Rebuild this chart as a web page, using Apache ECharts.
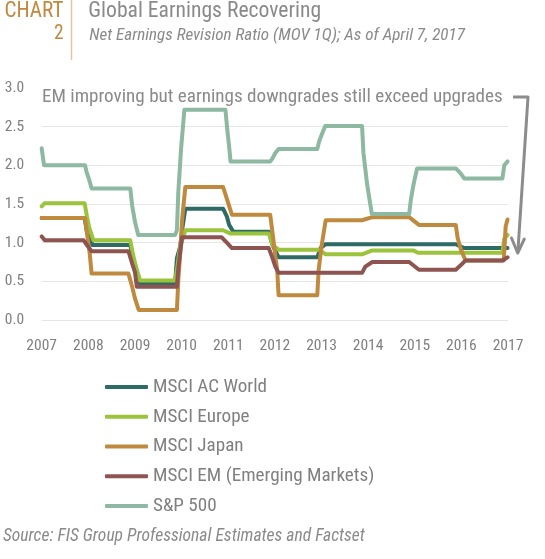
<!DOCTYPE html>
<html><head><meta charset="utf-8">
<script src="https://cdn.jsdelivr.net/npm/echarts@6/dist/echarts.min.js"></script>
<style>html,body{margin:0;padding:0;background:#fff}#c{width:545px;height:559px}</style>
</head><body><div id="c"></div>
<script>
// Tick labels
var xTicks = [2007,2008,2009,2010,2011,2012,2013,2014,2015,2016,2017];
var yTicks = [0.0,0.5,1.0,1.5,2.0,2.5,3.0];
var seriesNames = ['MSCI AC World','MSCI Europe','MSCI Japan','MSCI EM (Emerging Markets)','S&P 500'];

// Series values: [year, ratio] vertices of step lines
var acWorld = [[2007.00,1.32],[2007.92,1.32],[2007.97,1.14],[2008.04,1.14],[2008.08,0.97],[2008.90,0.97],[2008.96,0.80],[2009.04,0.62],[2009.11,0.47],[2009.86,0.47],[2009.90,0.80],[2009.97,0.95],[2010.02,1.20],[2010.08,1.44],[2010.89,1.44],[2010.97,1.34],[2011.02,1.23],[2011.11,1.14],[2011.87,1.14],[2011.95,0.97],[2012.08,0.81],[2012.91,0.81],[2012.98,0.93],[2013.09,0.98],[2015.88,0.98],[2016.06,0.93],[2016.99,0.93]];
var europe = [[2007.00,1.47],[2007.06,1.51],[2007.92,1.51],[2007.97,1.34],[2008.02,1.19],[2008.11,1.03],[2008.90,1.03],[2008.96,0.84],[2009.03,0.67],[2009.11,0.51],[2009.86,0.51],[2009.91,0.69],[2009.97,0.95],[2010.08,1.16],[2010.89,1.16],[2011.04,1.12],[2011.87,1.12],[2011.95,0.97],[2012.08,0.91],[2012.94,0.91],[2013.09,0.85],[2013.87,0.85],[2014.09,0.90],[2014.97,0.90],[2015.07,0.87],[2016.88,0.87],[2016.92,1.05],[2016.99,1.10]];
var japan = [[2007.00,1.32],[2007.93,1.32],[2007.98,1.08],[2008.03,0.86],[2008.07,0.60],[2008.86,0.60],[2008.94,0.43],[2009.00,0.28],[2009.08,0.13],[2009.90,0.13],[2009.93,0.52],[2009.97,0.86],[2010.01,1.29],[2010.08,1.72],[2010.89,1.72],[2010.99,1.53],[2011.08,1.36],[2011.90,1.36],[2011.97,1.03],[2012.01,0.82],[2012.05,0.65],[2012.08,0.32],[2012.91,0.32],[2012.94,0.65],[2013.00,0.95],[2013.09,1.29],[2013.87,1.29],[2014.09,1.33],[2014.88,1.33],[2015.09,1.23],[2015.88,1.23],[2015.92,1.06],[2015.99,0.91],[2016.09,0.77],[2016.91,0.77],[2016.95,1.21],[2016.99,1.30]];
var em = [[2007.00,1.08],[2007.07,1.03],[2007.90,1.03],[2007.97,0.97],[2008.07,0.89],[2008.86,0.89],[2008.94,0.73],[2009.00,0.62],[2009.04,0.43],[2009.90,0.43],[2009.93,0.67],[2010.01,1.07],[2010.86,1.07],[2010.97,1.00],[2011.08,0.93],[2011.87,0.93],[2011.95,0.80],[2012.01,0.69],[2012.08,0.61],[2013.87,0.61],[2013.94,0.69],[2014.09,0.75],[2014.88,0.75],[2015.09,0.65],[2015.88,0.65],[2015.99,0.71],[2016.09,0.77],[2016.88,0.77],[2016.99,0.81]];
var sp500 = [[2007.00,2.22],[2007.02,2.13],[2007.05,2.00],[2007.93,2.00],[2007.96,1.92],[2008.02,1.81],[2008.07,1.70],[2008.90,1.70],[2008.94,1.48],[2009.00,1.27],[2009.07,1.10],[2009.86,1.10],[2009.90,1.16],[2009.93,1.66],[2009.99,2.22],[2010.06,2.72],[2010.94,2.72],[2010.98,2.46],[2011.02,2.24],[2011.05,2.05],[2011.90,2.05],[2011.95,2.09],[2012.01,2.16],[2012.08,2.21],[2012.91,2.21],[2012.95,2.31],[2013.00,2.39],[2013.08,2.51],[2013.87,2.51],[2013.90,2.16],[2013.98,1.75],[2014.08,1.37],[2014.88,1.37],[2014.92,1.57],[2014.98,1.77],[2015.05,1.96],[2015.88,1.96],[2015.98,1.90],[2016.06,1.83],[2016.88,1.83],[2016.92,2.00],[2016.99,2.05]];

var colors = ['#2f6b66','#9bc33c','#c08a3e','#8e5452','#8db8a1'];
var allData = [acWorld, europe, japan, em, sp500];
var grey = '#8a8a8a';
var FONT = '"Roboto Condensed","Liberation Sans",sans-serif';
var annotation = 'EM improving but earnings downgrades still exceed upgrades';
var title = 'Global Earnings Recovering';
var subtitle = 'Net Earnings Revision Ratio (MOV 1Q); As of April 7, 2017';
var source = 'Source: FIS Group Professional Estimates and Factset';

var cv = document.createElement('canvas').getContext('2d');
function fit(text, style, target){ cv.font = style + ' 100px ' + FONT; return 100 * target / cv.measureText(text).width; }
var fsAnn = fit(annotation, '', 461);
var fsTitle = fit(title, '', 233);
var fsSub = fit(subtitle, 'italic', 376);
var fsSrc = fit(source, 'italic', 362);
var fsLeg = fit(seriesNames[3], '', 221.5);
var fsChart = fit('CHART', '', 59);
var fsAxis = fit('2007', '', 30.7);

var chart = echarts.init(document.getElementById('c'), null, {renderer:'canvas'});
var series = seriesNames.map(function(n,i){
  return {name:n, type:'line', data:allData[i], showSymbol:false, symbol:'none',
    lineStyle:{width:4, color:colors[i], cap:'round', join:'round'},
    itemStyle:{color:colors[i]}, animation:false, z:2+i};
});
chart.setOption({
  animation:false,
  textStyle:{fontFamily:FONT},
  grid:{left:41.7, right:37, top:88, bottom:239, containLabel:false},
  xAxis:{type:'value', min:xTicks[0], max:xTicks[xTicks.length-1], interval:1,
    axisLine:{show:false}, axisTick:{show:false}, splitLine:{show:false},
    axisLabel:{color:'#808080', fontSize:fsAxis, fontFamily:FONT, margin:18, formatter:function(v){return String(v);}}},
  yAxis:{type:'value', min:yTicks[0], max:yTicks[yTicks.length-1], interval:0.5,
    axisLine:{show:false}, axisTick:{show:false},
    splitLine:{show:true, showMaxLine:false, lineStyle:{color:'#e6e6e6', width:1}},
    axisLabel:{color:'#808080', fontSize:fsAxis, fontFamily:FONT, margin:17.5, formatter:function(v){return v.toFixed(1);}}},
  legend:{orient:'vertical', left:100, top:372, itemWidth:43, itemHeight:4, itemGap:9.75,
    icon:'roundRect', data:seriesNames,
    textStyle:{color:'#808080', fontSize:fsLeg, fontFamily:FONT, lineHeight:20}},
  series:series,
  graphic:[
    {type:'text', x:63.5, y:11.5, style:{text:'CHART', fill:'#c0893f', font:fsChart+'px '+FONT, align:'right', verticalAlign:'middle'}},
    {type:'text', x:63.5, y:34.5, style:{text:'2', fill:'#c0893f', font:(fsChart*0.92)+'px '+FONT, align:'right', verticalAlign:'middle'}},
    {type:'line', shape:{x1:71.5, y1:0, x2:71.5, y2:60}, style:{stroke:'#e2c49e', lineWidth:1.5}},
    {type:'text', x:88.3, y:12, style:{text:title, fill:grey, font:fsTitle+'px '+FONT, verticalAlign:'middle'}},
    {type:'text', x:89.3, y:35.5, style:{text:subtitle, fill:grey, font:'italic '+fsSub+'px '+FONT, verticalAlign:'middle'}},
    {type:'text', x:42, y:97.5, style:{text:annotation, fill:grey, font:fsAnn+'px '+FONT, verticalAlign:'middle'}},
    {type:'polyline', shape:{points:[[513,97],[528,97],[518,250]]}, style:{stroke:'#8c8c8c', lineWidth:3, fill:null, lineJoin:'round'}},
    {type:'polyline', shape:{points:[[511.5,238],[517.7,253],[524.3,239]]}, style:{stroke:'#8c8c8c', lineWidth:3, fill:null, lineJoin:'round', lineCap:'round'}},
    {type:'text', x:3, y:537, style:{text:source, fill:grey, font:'italic '+fsSrc+'px '+FONT, verticalAlign:'middle'}}
  ]
});
</script></body></html>
